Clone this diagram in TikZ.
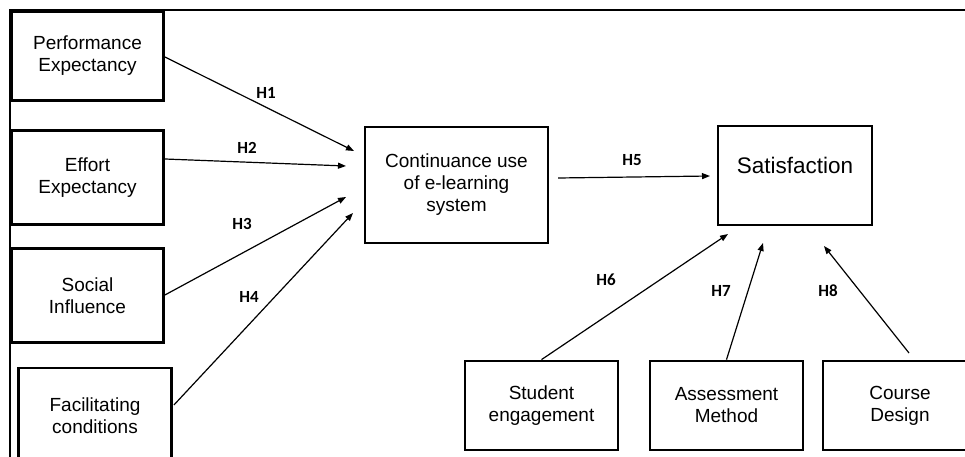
\documentclass[tikz,border=0pt]{standalone}
\usepackage{fontspec}
\setmainfont{Liberation Sans}
\newfontfamily\hfont{Carlito}
\usetikzlibrary{arrows.meta}
\tikzset{
  construct/.style={draw, line width=2.8pt, minimum width=#1, inner sep=0pt,
    align=center, font=\fontsize{19}{22}\selectfont},
  construct/.default=152pt,
  link/.style={line width=1.2pt, -{Triangle[length=8pt,width=6pt]}},
  hyp/.style={font=\hfont\bfseries\fontsize{17}{20}\selectfont, inner sep=0pt},
}
\begin{document}
\begin{tikzpicture}[x=1pt,y=-1pt]
\useasboundingbox (0,0) rectangle (965,457);
\begin{scope}
\clip (0,0) rectangle (965,457);
% outer frame
\draw[line width=1.5pt] (10,457) -- (10,10) -- (965,10);

% independent constructs
\node[construct, minimum height=89pt] (pe) at (87.5,56) {Performance\\Expectancy};
\node[construct, minimum height=94pt] (ee) at (87.5,177.5) {Effort\\Expectancy};
\node[construct, minimum height=94pt] (si) at (87.5,295.5) {Social\\Influence};
\node[construct=153pt, minimum height=95pt] (fc) at (95,415.5) {Facilitating\\conditions};

% mediating and outcome constructs
\node[construct=183pt, minimum height=116pt] (cu) at (456.5,185) {Continuance use\\of e-learning\\system};
\node[construct=154pt, minimum height=99pt] (sat) at (795,175.5) {};
\node[font=\fontsize{22.5}{26}\selectfont, inner sep=0pt] (satlbl) at (795,165) {Satisfaction};

% moderating constructs
\node[construct=153pt, minimum height=89pt] (se) at (541.5,405.5) {Student\\engagement};
\node[construct=153pt, minimum height=89pt] (am) at (726.5,405.5) {Assessment\\Method};
\node[construct=154pt, minimum height=89pt] (cd) at (900,405.5) {Course\\Design};

% arrow end points
\coordinate (t1) at (354,151);
\coordinate (t2) at (346,166);
\coordinate (t3) at (346,197);
\coordinate (t4) at (353,213);
\coordinate (t5) at (710,176);
\coordinate (t6) at (728,234);
\coordinate (t7) at (763,243);
\coordinate (t8) at (824,246);

\coordinate (s5) at (558,178);
\coordinate (s8) at (909,353);

\draw[link] (pe.east |- 0,57) -- (t1);
\draw[link] (ee.east |- 0,159) -- (t2);
\draw[link] (si.east |- 0,295) -- (t3);
\draw[link] (fc.east |- 0,405) ++(1,0) -- (t4);
\draw[link] (s5) -- (t5);
\draw[link] (se.north) -- (t6);
\draw[link] (am.north) -- (t7);
\draw[link] (s8) -- (t8);

% hypothesis labels
\node[hyp] (h1) at (266,93) {H1};
\node[hyp] (h2) at (247,148) {H2};
\node[hyp] (h3) at (242,224) {H3};
\node[hyp] (h4) at (249,297) {H4};
\node[hyp] (h5) at (632,160) {H5};
\node[hyp] (h6) at (606,280) {H6};
\node[hyp] (h7) at (721,291) {H7};
\node[hyp] (h8) at (828,291) {H8};
\end{scope}
\end{tikzpicture}
\end{document}
